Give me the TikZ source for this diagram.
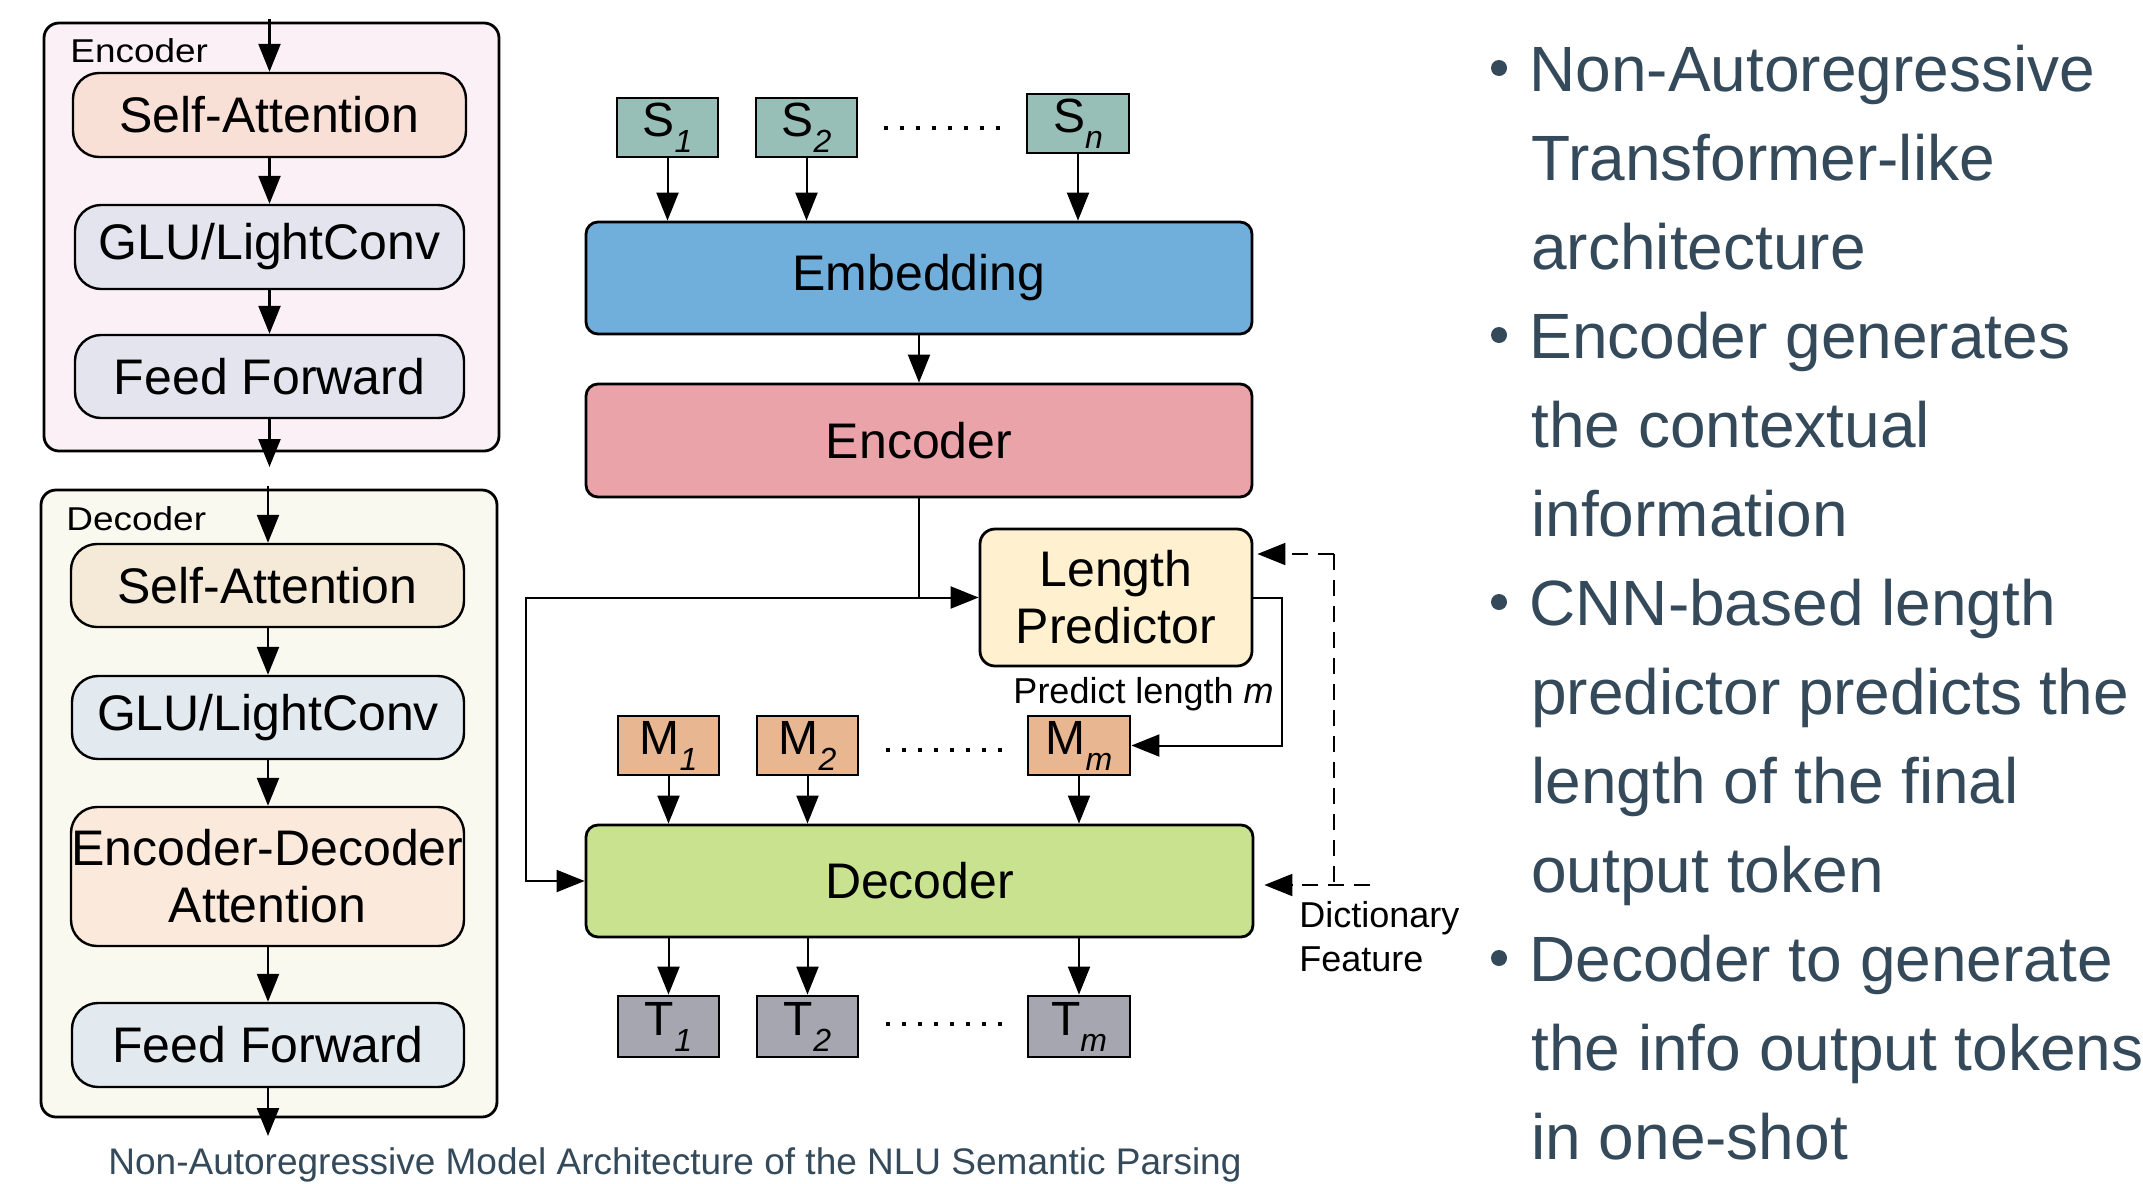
\documentclass[tikz,border=0pt]{standalone}
\usepackage{fontspec}
\setmainfont{Liberation Sans}
\usetikzlibrary{arrows.meta}
\definecolor{encpanel}{HTML}{FBF0F5}
\definecolor{decpanel}{HTML}{F9F9F0}
\definecolor{esa}{HTML}{F9E0D6}
\definecolor{egl}{HTML}{E4E4EF}
\definecolor{dsa}{HTML}{F5EAD8}
\definecolor{dgl}{HTML}{E2EAF0}
\definecolor{deda}{HTML}{FBEADC}
\definecolor{stok}{HTML}{97BFB8}
\definecolor{emb}{HTML}{70AEDC}
\definecolor{encm}{HTML}{E9A3A9}
\definecolor{lpc}{HTML}{FFF1D0}
\definecolor{mtok}{HTML}{E8B690}
\definecolor{decm}{HTML}{C8E290}
\definecolor{ttok}{HTML}{A6A6B1}
\definecolor{slate}{HTML}{34495A}
\newcommand{\mytok}[2]{#1\raisebox{-8pt}{\fontsize{16}{16}\selectfont\itshape #2}}
\begin{document}
\begin{tikzpicture}[x=0.5pt,y=-0.5pt,
 panel/.style={draw, line width=1.4pt, rounded corners=7.5pt, inner sep=0pt},
 pill/.style={draw, line width=1.2pt, rounded corners=13pt, inner sep=0pt, align=center, font=\fontsize{25}{28.5}\selectfont},
 blk/.style={draw, line width=1.4pt, rounded corners=6pt, inner sep=0pt, align=center, font=\fontsize{25}{28.5}\selectfont},
 tokbox/.style={draw, line width=1.4pt, inner sep=0pt, minimum width=50.5pt, font=\fontsize{24}{28}\selectfont},
 arr/.style={line width=1.2pt, -{Triangle[length=14pt,width=11pt]}},
 marr/.style={line width=1pt, -{Triangle[length=14pt,width=11pt]}},
 dotl/.style={line width=2pt, dash pattern=on 2pt off 6pt},
 dashl/.style={line width=1pt, dash pattern=on 8pt off 5pt},
 plabel/.style={inner sep=0pt, anchor=base west, font=\fontsize{16.5}{20}\selectfont\addfontfeature{FakeStretch=1.12}},
 slabel/.style={inner sep=0pt, font=\fontsize{18}{22}\selectfont},
 bline/.style={inner sep=0pt, anchor=base west, text=slate, font=\fontsize{32}{40}\selectfont},
 bdot/.style={circle, fill=slate, inner sep=0pt, minimum size=8pt}
]
\useasboundingbox (0,0) rectangle (2143,1184);
\fill[white] (0,0) rectangle (2143,1184);

% ---------- Encoder panel ----------
\node[panel, fill=encpanel, minimum width=227.5pt, minimum height=214pt] (encpanel) at (271.5,237) {};
\node[plabel] (enclbl) at (70,62) {Encoder};
\node[pill, fill=esa, minimum width=196.5pt, minimum height=42pt] (eSA) at (269.5,115) {Self-Attention};
\node[pill, fill=egl, minimum width=194.5pt, minimum height=42pt] (eGLU) at (269.5,247) {GLU/LightConv};
\node[pill, fill=egl, minimum width=194.5pt, minimum height=41.5pt] (eFF) at (269.5,376.5) {Feed Forward};
\coordinate (eIn) at (269.5,19);
\coordinate (eOut) at (269.5,467);
\draw[arr] (eIn) -- (eSA.north);
\draw[arr] (eSA.south) -- (eGLU.north);
\draw[arr] (eGLU.south) -- (eFF.north);
\draw[arr] (eFF.south) -- (eOut);

% ---------- Decoder panel ----------
\node[panel, fill=decpanel, minimum width=228pt, minimum height=313.5pt] (decpanel) at (269,803.5) {};
\node[plabel] (declbl) at (66,530) {Decoder};
\node[pill, fill=dsa, minimum width=196.5pt, minimum height=41.5pt] (dSA) at (267.5,585.5) {Self-Attention};
\node[pill, fill=dgl, minimum width=196pt, minimum height=41.5pt] (dGLU) at (268,717.5) {GLU/LightConv};
\node[pill, fill=deda, minimum width=196.5pt, minimum height=69.5pt] (dEDA) at (267.5,876.5) {Encoder-Decoder\\Attention};
\node[pill, fill=dgl, minimum width=196pt, minimum height=42pt] (dFF) at (268,1045) {Feed Forward};
\coordinate (dIn) at (268,486);
\coordinate (dOut) at (268,1136);
\draw[arr] (dIn) -- (dIn |- dSA.north);
\draw[arr] (dSA.south -| dIn) -- (dIn |- dGLU.north);
\draw[arr] (dGLU.south -| dIn) -- (dIn |- dEDA.north);
\draw[arr] (dEDA.south -| dIn) -- (dIn |- dFF.north);
\draw[arr] (dFF.south -| dIn) -- (dOut);

% ---------- Middle: input tokens ----------
\node[tokbox, fill=stok, minimum height=29.5pt] (S1) at (667.5,127.5) {\mytok{S}{1}};
\node[tokbox, fill=stok, minimum height=29.5pt] (S2) at (806.5,127.5) {\mytok{S}{2}};
\node[tokbox, fill=stok, minimum height=29.5pt, minimum width=51pt] (Sn) at (1078,123.5) {\mytok{S}{n}};
\coordinate (sdA) at (884,128);
\coordinate (sdB) at (1000,128);
\draw[dotl] (sdA) -- (sdB);

\node[blk, fill=emb, minimum width=333pt, minimum height=56pt] (Emb) at (919,278) {Embedding};
\node[blk, fill=encm, minimum width=333pt, minimum height=56.5pt] (Enc) at (919,440.5) {Encoder};
\draw[marr] (S1.south) -- (S1.south |- Emb.north);
\draw[marr] (S2.south) -- (S2.south |- Emb.north);
\draw[marr] (Sn.south) -- (Sn.south |- Emb.north);
\draw[marr] (Emb.south) -- (Enc.north);

% ---------- Length predictor ----------
\node[blk, fill=lpc, rounded corners=7.5pt, minimum width=136pt, minimum height=68.5pt] (LP) at (1116,597.5) {Length\\Predictor};
\coordinate (j) at (Enc.south |- LP.west);
\coordinate (cl) at (526,597.5);
\draw[marr] (Enc.south) -- (j) -- (LP.west);

% ---------- mask tokens ----------
\node[tokbox, fill=mtok, minimum height=29.5pt] (M1) at (668.5,745.5) {\mytok{M}{1}};
\node[tokbox, fill=mtok, minimum height=29.5pt] (M2) at (807.5,745.5) {\mytok{M}{2}};
\node[tokbox, fill=mtok, minimum height=29.5pt, minimum width=51pt] (Mm) at (1079,745.5) {\mytok{M}{m}};
\coordinate (mdA) at (886,750);
\coordinate (mdB) at (1002,750);
\draw[dotl] (mdA) -- (mdB);

\coordinate (lpR) at ([xshift=14.5pt]LP.east);
\draw[marr] (LP.east) -- (lpR) |- (Mm.east);
\node[slabel, anchor=base east] (plen) at (1274,703) {Predict length \textit{m}};

% ---------- Decoder ----------
\node[blk, fill=decm, minimum width=333.5pt, minimum height=56pt] (Dec) at (919.5,881) {Decoder};
\draw[marr] (j) -- (cl) |- (Dec.west);
\draw[marr] (M1.south) -- (M1.south |- Dec.north);
\draw[marr] (M2.south) -- (M2.south |- Dec.north);
\draw[marr] (Mm.south) -- (Mm.south |- Dec.north);

% ---------- output tokens ----------
\node[tokbox, fill=ttok, minimum height=30.5pt] (T1) at (668.5,1026.5) {\mytok{T}{1}};
\node[tokbox, fill=ttok, minimum height=30.5pt] (T2) at (807.5,1026.5) {\mytok{T}{2}};
\node[tokbox, fill=ttok, minimum height=30.5pt, minimum width=51pt] (Tm) at (1079,1026.5) {\mytok{T}{m}};
\coordinate (tdA) at (886,1024);
\coordinate (tdB) at (1002,1024);
\draw[dotl] (tdA) -- (tdB);
\draw[marr] (T1.north |- Dec.south) -- (T1.north);
\draw[marr] (T2.north |- Dec.south) -- (T2.north);
\draw[marr] (Tm.north |- Dec.south) -- (Tm.north);

% ---------- dictionary feature ----------
\coordinate (dfTop) at (1334,554);
\coordinate (dfBot) at (1334,885);
\coordinate (dfEnd) at (1370,885);
\draw[marr, dashl, shorten >=2pt] (dfTop) -- (dfTop -| LP.east);
\draw[dashl] (dfTop) -- (dfBot);
\draw[marr, dashl, shorten >=5pt] (dfEnd) -- (dfEnd -| Dec.east);
\node[slabel, anchor=base west] (dict1) at (1299,927) {Dictionary};
\node[slabel, anchor=base west] (dict2) at (1299,971) {Feature};

% ---------- caption ----------
\node[inner sep=0pt, anchor=base, text=slate, font=\fontsize{18.5}{22}\selectfont] (caption) at (675,1174) {Non-Autoregressive Model Architecture of the NLU Semantic Parsing};

% ---------- bullets ----------
\node[bdot] (d1) at (1499,68) {};
\node[bdot] (d2) at (1499,335) {};
\node[bdot] (d3) at (1499,602) {};
\node[bdot] (d4) at (1499,958) {};
\node[bline] (b1) at (1529,91) {Non-Autoregressive};
\node[bline] (b2) at (1531,180) {Transformer-like};
\node[bline] (b3) at (1531,269) {architecture};
\node[bline] (b4) at (1529,358) {Encoder generates};
\node[bline] (b5) at (1531,447) {the contextual};
\node[bline] (b6) at (1531,536) {information};
\node[bline] (b7) at (1529,625) {CNN-based length};
\node[bline] (b8) at (1531,714) {predictor predicts the};
\node[bline] (b9) at (1531,803) {length of the final};
\node[bline] (b10) at (1531,892) {output token};
\node[bline] (b11) at (1529,981) {Decoder to generate};
\node[bline] (b12) at (1531,1070) {the info output tokens};
\node[bline] (b13) at (1531,1159) {in one-shot};
\end{tikzpicture}
\end{document}
